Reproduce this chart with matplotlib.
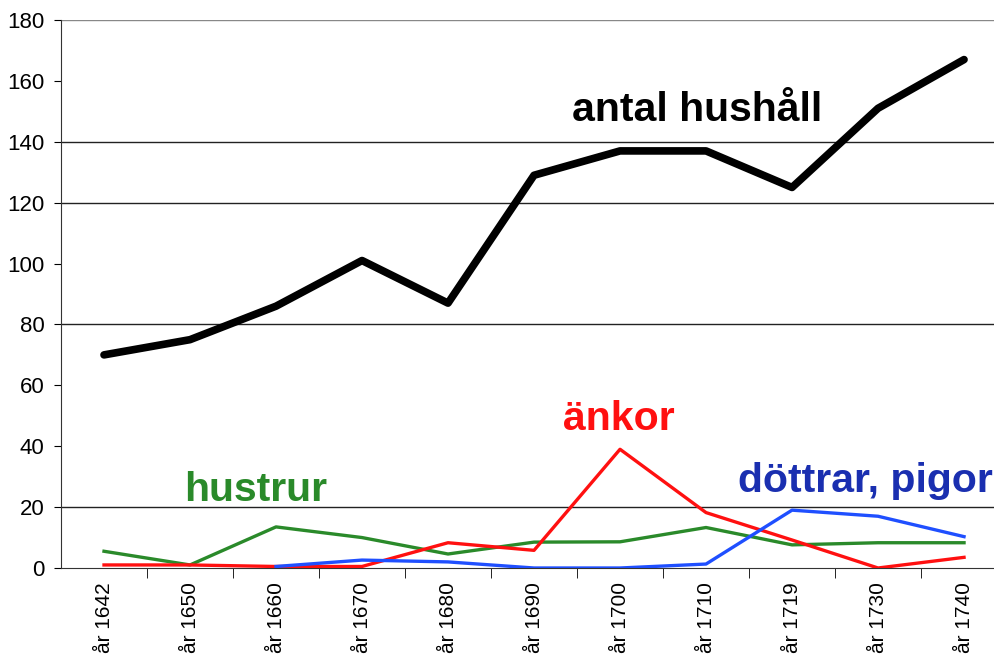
import matplotlib.pyplot as plt
import numpy as np

# data
years = ["år 1642", "år 1650", "år 1660", "år 1670", "år 1680", "år 1690",
         "år 1700", "år 1710", "år 1719", "år 1730", "år 1740"]
hushall = [70, 75, 86, 101, 87, 129, 137, 137, 125, 151, 167]
hustrur = [5.5, 1, 13.5, 10, 4.6, 8.5, 8.6, 13.3, 7.6, 8.3, 8.3]
ankor = [1, 1, 0.5, 0.5, 8.3, 5.8, 39, 18.2, 9.2, 0, 3.5]
dottrar = [np.nan, np.nan, 0.5, 2.6, 2, 0, 0, 1.3, 19, 17, 10.3]
grid_at = [20, 80, 120, 140, 180]

plt.rcParams['font.family'] = ['Liberation Sans', 'DejaVu Sans']

fig = plt.figure(figsize=(9.95, 6.58), dpi=100)
ax = fig.add_axes([61/995, 1-568/658, 1-61/995, (568-20)/658])

x = np.arange(len(years))
for g in grid_at:
    ax.axhline(g, color='#888888' if g == 180 else '#222222', lw=1, zorder=1)

ax.plot(x, hustrur, color='#2a8a2a', lw=2.4, zorder=3)
ax.plot(x, ankor, color='#ff1010', lw=2.4, zorder=3)
ax.plot(x, dottrar, color='#1f4fff', lw=2.4, zorder=3)
ax.plot(x, hushall, color='black', lw=5.5, solid_capstyle='round', zorder=4)

ax.set_xlim(-0.5, 10.36)
ax.set_ylim(0, 180)
ax.set_yticks(range(0, 181, 20))
ax.tick_params(axis='y', labelsize=16, length=5, direction='out', pad=7)
ax.set_xticks(x)
ax.set_xticklabels(years, rotation=90, fontsize=15)
ax.tick_params(axis='x', which='major', length=0, pad=10)
ax.set_xticks(np.arange(0.5, 10.5, 1), minor=True)
ax.tick_params(axis='x', which='minor', length=7, direction='out')

for s in ['top', 'right']:
    ax.spines[s].set_visible(False)
ax.spines['left'].set_color('#333333')
ax.spines['bottom'].set_color('#333333')

lab = dict(fontsize=29.5, fontweight='bold', ha='center', va='center')
ax.text(6.9, 150.5, "antal hushåll", color='black', **lab)
ax.text(1.76, 25.5, "hustrur", color='#2a8a2a', **lab)
ax.text(5.99, 49, "änkor", color='#ff1010', **lab)
ax.text(8.85, 28.5, "döttrar, pigor", color='#1a2fb0', **lab)

fig.savefig("out.png", dpi=100)
